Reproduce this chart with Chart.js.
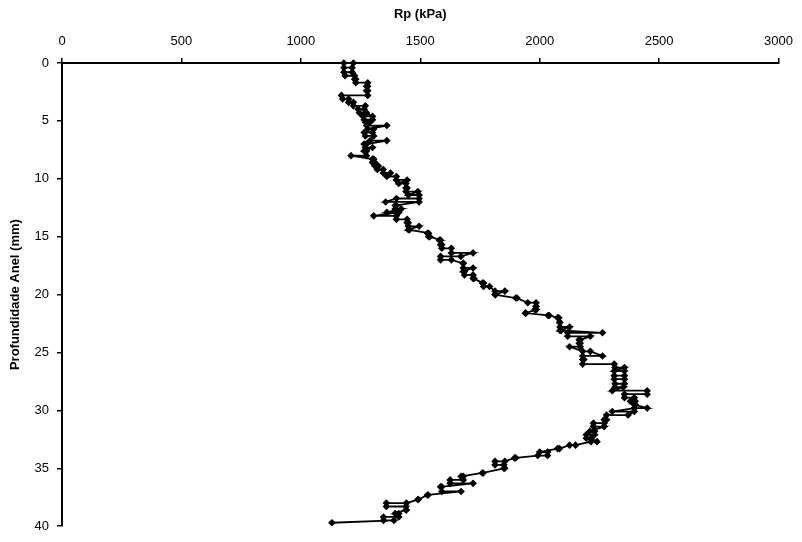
<!DOCTYPE html>
<html>
<head>
<meta charset="utf-8">
<script src="https://cdn.jsdelivr.net/npm/chart.js@4"></script>
<style>
  html, body { margin: 0; padding: 0; background: #fff; }
  #wrap { width: 802px; height: 542px; }
</style>
</head>
<body>
<div id="wrap"><canvas id="c" width="802" height="542"></canvas></div>
<script>
// Penetration resistance profile: depth (mm) vs Rp (kPa).
// Readings come in pairs taken at the same depth.
const depthMm = [
  0.0, 0.0,   0.4, 0.4,   0.8, 0.8,   1.1, 1.1,   1.4, 1.4,
  1.7, 1.7,   2.0, 2.0,   2.4, 2.4,   2.8, 2.8,   3.1, 3.1,
  3.4, 3.4,   3.7, 3.7,   4.0, 4.0,   4.3, 4.3,   4.6, 4.6,
  4.9, 4.9,   5.1, 5.1,   5.4, 5.4,   5.7, 5.7,   6.0, 6.0,
  6.3, 6.3,   6.7, 6.7,   7.0, 7.0,   7.3, 7.3,   7.6, 7.6,
  8.0, 8.0,   8.3, 8.3,   8.6, 8.6,   8.9, 8.9,   9.2, 9.2,
  9.5, 9.5,   9.8, 9.8,   10.1, 10.1, 10.4, 10.4, 10.8, 10.8,
  11.1, 11.1, 11.4, 11.4, 11.7, 11.7, 12.0, 12.0, 12.3, 12.3,
  12.6, 12.6, 12.9, 12.9, 13.2, 13.2, 13.5, 13.5, 13.8, 13.8,
  14.1, 14.1, 14.4, 14.4, 14.7, 14.7, 15.0, 15.0, 15.3, 15.3,
  15.7, 15.7, 16.0, 16.0, 16.4, 16.4, 16.7, 16.7, 17.0, 17.0,
  17.3, 17.3, 17.7, 17.7, 18.0, 18.0, 18.3, 18.3, 18.6, 18.6,
  19.0, 19.0, 19.3, 19.3, 19.7, 19.7, 20.0, 20.0, 20.3, 20.3,
  20.7, 20.7, 21.0, 21.0, 21.3, 21.3, 21.6, 21.6, 21.8, 21.8,
  22.0, 22.0, 22.4, 22.4, 22.8, 22.8, 23.1, 23.1, 23.3, 23.3,
  23.6, 23.6, 23.9, 23.9, 24.2, 24.2, 24.5, 24.5, 24.9, 24.9,
  25.3, 25.3, 25.6, 25.6, 26.0, 26.0, 26.3, 26.3, 26.6, 26.6,
  27.0, 27.0, 27.3, 27.3, 27.7, 27.7, 28.0, 28.0, 28.3, 28.3,
  28.6, 28.6, 28.9, 28.9, 29.2, 29.2, 29.5, 29.5, 29.8, 29.8,
  30.1, 30.1, 30.4, 30.4, 30.8, 30.8, 31.1, 31.1, 31.4, 31.4,
  31.8, 31.8, 32.1, 32.1, 32.4, 32.4, 32.7, 32.7, 33.0, 33.0,
  33.3, 33.3, 33.6, 33.6, 33.9, 33.9, 34.1, 34.1, 34.4, 34.4,
  34.7, 34.7, 35.0, 35.0, 35.4, 35.4, 35.7, 35.7, 36.0, 36.0,
  36.3, 36.3, 36.6, 36.6, 37.0, 37.0, 37.3, 37.3, 37.7, 37.7,
  38.0, 38.0, 38.3, 38.3, 38.6, 38.6, 38.9, 38.9, 39.2, 39.2,
  39.5, 39.5, 39.7
];

const rpKPa = [
  1220, 1180, 1180, 1215, 1215, 1180, 1185, 1225, 1225, 1230,
  1230, 1280, 1280, 1275, 1275, 1280, 1280, 1170, 1175, 1200,
  1200, 1220, 1220, 1270, 1265, 1240, 1245, 1275, 1300, 1260,
  1265, 1300, 1290, 1270, 1275, 1360, 1280, 1305, 1300, 1265,
  1270, 1305, 1290, 1360, 1275, 1265, 1270, 1300, 1265, 1275,
  1275, 1210, 1300, 1305, 1300, 1310, 1310, 1325, 1320, 1345,
  1345, 1375, 1360, 1400, 1400, 1445, 1410, 1440, 1440, 1445,
  1440, 1490, 1450, 1495, 1495, 1400, 1355, 1495, 1400, 1395,
  1395, 1420, 1360, 1410, 1305, 1400, 1400, 1445, 1445, 1450,
  1450, 1495, 1450, 1455, 1535, 1530, 1535, 1540, 1585, 1580,
  1585, 1590, 1590, 1630, 1630, 1721, 1670, 1585, 1585, 1630,
  1680, 1680, 1680, 1721, 1680, 1685, 1685, 1721, 1721, 1725,
  1760, 1765, 1765, 1790, 1813, 1854, 1813, 1815, 1900, 1905,
  1950, 1985, 1985, 1985, 1980, 1985, 1942, 1940, 2035, 2040,
  2075, 2080, 2083, 2085, 2085, 2125, 2085, 2090, 2263, 2117,
  2117, 2212, 2170, 2165, 2165, 2170, 2170, 2125, 2180, 2212,
  2263, 2180, 2180, 2185, 2180, 2312, 2315, 2355, 2312, 2355,
  2355, 2312, 2312, 2355, 2355, 2315, 2315, 2350, 2304, 2450,
  2450, 2355, 2355, 2396, 2380, 2400, 2400, 2396, 2450, 2396,
  2304, 2396, 2370, 2280, 2280, 2270, 2270, 2225, 2225, 2270,
  2210, 2230, 2230, 2195, 2195, 2215, 2240, 2215, 2150, 2125,
  2083, 2075, 2000, 2033, 2033, 1992, 1900, 1895, 1854, 1813,
  1813, 1850, 1854, 1850, 1763, 1760, 1671, 1680, 1680, 1625,
  1625, 1721, 1585, 1590, 1590, 1671, 1533, 1530, 1492, 1490,
  1442, 1358, 1358, 1440, 1442, 1440, 1395, 1410, 1410, 1346,
  1346, 1390, 1130
];

const xTicks = [0, 500, 1000, 1500, 2000, 2500, 3000];
const yTicks = [0, 5, 10, 15, 20, 25, 30, 35, 40];

const points = depthMm.map((d, i) => ({ x: rpKPa[i], y: d }));

const fontFamily = "'Liberation Sans', Arial, sans-serif";

new Chart(document.getElementById('c'), {
  type: 'scatter',
  data: {
    datasets: [{
      data: points,
      showLine: true,
      borderColor: '#000',
      borderWidth: 1.8,
      backgroundColor: '#000',
      pointStyle: 'rectRot',
      pointRadius: 3.8,
      pointBorderWidth: 0,
      pointBackgroundColor: '#000',
      clip: false
    }]
  },
  options: {
    responsive: false,
    animation: false,
    devicePixelRatio: 1,
    layout: { padding: { left: 0, right: 20, top: 0, bottom: 8 } },
    plugins: {
      legend: { display: false },
      tooltip: { enabled: false }
    },
    scales: {
      x: {
        type: 'linear',
        position: 'top',
        min: 0,
        max: 3000,
        afterBuildTicks: s => { s.ticks = xTicks.map(v => ({ value: v })); },
        afterFit: s => { s.height = 63; },
        ticks: {
          color: '#000',
          font: { family: fontFamily, size: 13 },
          padding: 9,
          maxRotation: 0,
          callback: v => String(v)
        },
        grid: {
          display: true,
          drawOnChartArea: false,
          drawTicks: true,
          tickLength: 5,
          color: '#000',
          lineWidth: 1.5
        },
        border: { display: true, color: '#000', width: 2 },
        title: {
          display: true,
          text: 'Rp (kPa)',
          color: '#000',
          font: { family: fontFamily, size: 13, weight: 'bold' },
          padding: { top: 7, bottom: 0 }
        }
      },
      y: {
        type: 'linear',
        reverse: true,
        min: 0,
        max: 40,
        afterBuildTicks: s => { s.ticks = yTicks.map(v => ({ value: v })); },
        afterFit: s => { s.width = 62; },
        ticks: {
          color: '#000',
          font: { family: fontFamily, size: 13 },
          padding: 8,
          callback: v => String(v)
        },
        grid: {
          display: true,
          drawOnChartArea: false,
          drawTicks: true,
          tickLength: 5,
          color: '#000',
          lineWidth: 1.5
        },
        border: { display: true, color: '#000', width: 2 },
        title: {
          display: true,
          text: 'Profundidade Anel (mm)',
          color: '#000',
          font: { family: fontFamily, size: 13, weight: 'bold' },
          padding: { top: 8, bottom: 0 }
        }
      }
    }
  }
});
</script>
</body>
</html>
